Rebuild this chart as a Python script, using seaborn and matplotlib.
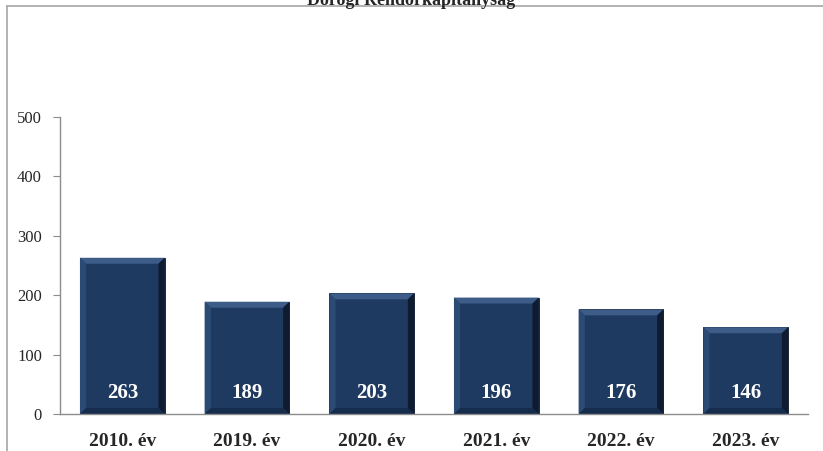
import matplotlib
matplotlib.use("Agg")
import matplotlib.pyplot as plt
from matplotlib.lines import Line2D
import seaborn as sns
import pandas as pd

years = ["2010. év", "2019. év", "2020. év", "2021. év", "2022. év", "2023. év"]
counts = [263, 189, 203, 196, 176, 146]
title = "Dorogi Rendőrkapitányság"

sns.set_style("white")
plt.rcParams["font.family"] = ["Liberation Serif", "DejaVu Serif"]

df = pd.DataFrame({"ev": years, "db": counts})

fig = plt.figure(figsize=(8.23, 4.51), dpi=100)
ax = fig.add_axes([60 / 823, 1 - 414 / 451, 748 / 823, 297 / 451])

sns.barplot(data=df, x="ev", y="db", color="#1f3a60", saturation=1,
            width=0.68, edgecolor="#0a1526", linewidth=0.6, ax=ax)

ax.set_ylim(0, 500)
ax.set_xlim(-0.5, len(years) - 0.5)

# bevel look: lighter top, darker right side, taken from each bar's own geometry
bx, by = 0.05, 10
for p in list(ax.patches):
    x0, y0 = p.get_x(), p.get_y()
    x1, y1 = x0 + p.get_width(), y0 + p.get_height()
    ax.fill([x0, x1, x1 - bx, x0 + bx], [y1, y1, y1 - by, y1 - by],
            color="#3d5d88", lw=0, zorder=3)
    ax.fill([x1, x1, x1 - bx, x1 - bx], [y1, y0, y0 + by, y1 - by],
            color="#0e1b30", lw=0, zorder=3)
    ax.fill([x0, x0, x0 + bx, x0 + bx], [y1, y0, y0 + by, y1 - by],
            color="#2b4a74", lw=0, zorder=3)
    ax.fill([x0, x1, x1 - bx, x0 + bx], [y0, y0, y0 + by, y0 + by],
            color="#162c4c", lw=0, zorder=3)

for i, v in enumerate(counts):
    ax.annotate(str(v), (i, 0), xytext=(0, 8), textcoords="offset points",
                ha="center", va="bottom", color="white",
                fontsize=15, fontweight="bold", zorder=4)

ax.set_yticks([0, 100, 200, 300, 400, 500])
ax.set_xlabel("")
ax.set_ylabel("")
for s in ["top", "right"]:
    ax.spines[s].set_visible(False)
for s in ["left", "bottom"]:
    ax.spines[s].set_color("#8c8c8c")
    ax.spines[s].set_linewidth(1)
ax.spines["bottom"].set_zorder(5)
ax.tick_params(axis="y", left=True, length=5, color="#8c8c8c", labelsize=12, pad=8)
ax.tick_params(axis="x", bottom=False, labelsize=14, pad=10)
for t in ax.get_xticklabels():
    t.set_fontweight("bold")

fig.text(0.5, 1 - 5 / 451, title, ha="center", va="baseline",
         fontsize=13, fontweight="bold")

# outer chart frame (top and left edges visible)
fig.add_artist(Line2D([7 / 823, 1], [1 - 6 / 451, 1 - 6 / 451],
                      transform=fig.transFigure, color="#a6a6a6", lw=1.2))
fig.add_artist(Line2D([7 / 823, 7 / 823], [0, 1 - 6 / 451],
                      transform=fig.transFigure, color="#a6a6a6", lw=1.2))

fig.savefig("out.png", dpi=100)
